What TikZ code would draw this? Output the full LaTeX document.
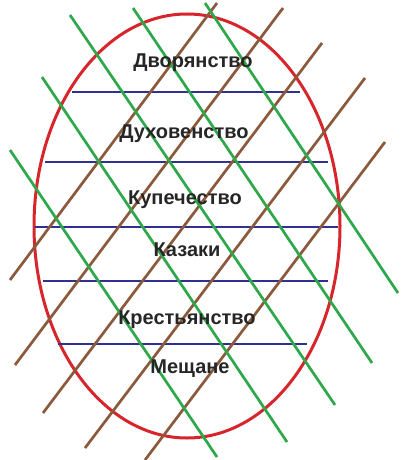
\documentclass[tikz,border=0pt]{standalone}
\usepackage{fontspec}
\setmainfont{Liberation Sans}
\definecolor{ringred}{RGB}{214,38,44}
\definecolor{bandblue}{RGB}{46,49,146}
\definecolor{linegreen}{RGB}{46,168,74}
\definecolor{linebrown}{RGB}{139,90,60}
\tikzset{
  ring/.style={draw=ringred, line width=3pt},
  band/.style={draw=bandblue, line width=2.6pt},
  gline/.style={draw=linegreen, line width=2.7pt},
  bline/.style={draw=linebrown, line width=2.7pt},
  estate/.style={font=\fontsize{20}{22}\selectfont\bfseries, text=black!85, inner sep=0pt}
}
\begin{document}
\begin{tikzpicture}[x=1pt,y=-1pt]
\useasboundingbox[fill=white] (0,0) rectangle (401,460);
% ellipse
\draw[ring] (187,226) ellipse [x radius=153, y radius=212];
% horizontal bands
\draw[band] (72,92) -- (300,92);
\draw[band] (45,162) -- (328,162);
\draw[band] (35,227) -- (338,227);
\draw[band] (43,281) -- (328,281);
\draw[band] (58,344) -- (307,344);
% brown diagonals
\draw[bline] (217,3) -- (10,280);
\draw[bline] (283,8) -- (15,365);
\draw[bline] (322,43) -- (43,413);
\draw[bline] (365,78) -- (85,448);
\draw[bline] (385,142) -- (145,460);
% green diagonals
\draw[gline] (10,150) -- (217,457);
\draw[gline] (42,77) -- (287,442);
\draw[gline] (70,15) -- (335,405);
\draw[gline] (133,8) -- (372,363);
\draw[gline] (205,3) -- (398,293);
% labels
\node[estate] (dv) at (193,63) {Дворянство};
\node[estate] (du) at (184,134) {Духовенство};
\node[estate] (ku) at (185,200) {Купечество};
\node[estate] (ka) at (187,250) {Казаки};
\node[estate] (kr) at (187,320) {Крестьянство};
\node[estate] (me) at (190,369) {Мещане};
\end{tikzpicture}
\end{document}
